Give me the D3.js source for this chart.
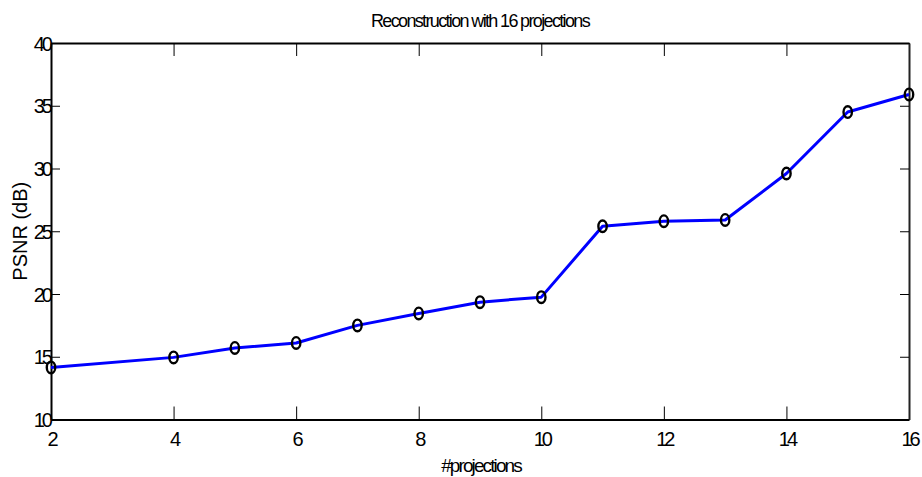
<!DOCTYPE html>
<html>
<head>
<meta charset="utf-8">
<script src="https://d3js.org/d3.v7.min.js"></script>
<style>
  html, body { margin: 0; padding: 0; background: #fff; }
  svg { display: block; }
  text { font-family: "Liberation Sans", Arial, sans-serif; fill: #000; }
</style>
</head>
<body>
<svg id="chart" width="922" height="477"></svg>
<script>
const projections = [2, 4, 5, 6, 7, 8, 9, 10, 11, 12, 13, 14, 15, 16];
const psnr = [14.15, 14.95, 15.7, 16.1, 17.5, 18.45, 19.35, 19.75, 25.4, 25.8, 25.9, 29.6, 34.5, 35.9];
const xTicks = [2, 4, 6, 8, 10, 12, 14, 16];
const yTicks = [10, 15, 20, 25, 30, 35, 40];
const titleText = "Reconstruction with 16 projections";
const xLabel = "#projections";
const yLabel = "PSNR (dB)";

const W = 922, H = 477;
const margin = { left: 51, right: 13, top: 43, bottom: 57.5 };
const svg = d3.select("#chart");
const iw = W - margin.left - margin.right;
const ih = H - margin.top - margin.bottom;

const x = d3.scaleLinear().domain([2, 16]).range([margin.left, margin.left + iw]);
const y = d3.scaleLinear().domain([10, 40]).range([margin.top + ih, margin.top]);

const gBottom = svg.append("g").attr("transform", `translate(0,${margin.top + ih})`)
  .call(d3.axisBottom(x).tickValues(xTicks).tickSize(-13).tickSizeOuter(0).tickFormat(d3.format("d")));
const gTop = svg.append("g").attr("transform", `translate(0,${margin.top})`)
  .call(d3.axisTop(x).tickValues(xTicks).tickSize(-13).tickSizeOuter(0).tickFormat(""));
const gLeft = svg.append("g").attr("transform", `translate(${margin.left},0)`)
  .call(d3.axisLeft(y).tickValues(yTicks).tickSize(-9).tickSizeOuter(0).tickFormat(d3.format("d")));
const gRight = svg.append("g").attr("transform", `translate(${margin.left + iw},0)`)
  .call(d3.axisRight(y).tickValues(yTicks).tickSize(-9).tickSizeOuter(0).tickFormat(""));

[gBottom, gTop, gLeft, gRight].forEach(g => {
  g.select(".domain").attr("stroke", "#000").attr("stroke-width", 2);
  g.selectAll(".tick line").attr("stroke", "#000").attr("stroke-width", 1);
});
gRight.select(".domain").attr("stroke", "#222");

gBottom.selectAll(".tick text")
  .attr("y", 445.5 - (margin.top + ih)).attr("dy", 0)
  .attr("font-size", 20).attr("letter-spacing", "-3px")
  .attr("font-family", "Liberation Sans, Arial, sans-serif");
gLeft.selectAll(".tick text")
  .attr("x", -1).attr("dy", "0.36em")
  .attr("font-size", 20).attr("letter-spacing", "-3px")
  .attr("font-family", "Liberation Sans, Arial, sans-serif");

const line = d3.line().x((d, i) => x(projections[i])).y(d => y(d));
svg.append("path").datum(psnr)
  .attr("d", line)
  .attr("fill", "none")
  .attr("stroke", "#0000ff")
  .attr("stroke-width", 3)
  .attr("stroke-linejoin", "round");

svg.append("g").selectAll("ellipse").data(psnr).join("ellipse")
  .attr("cx", (d, i) => x(projections[i]))
  .attr("cy", d => y(d))
  .attr("rx", 4.2)
  .attr("ry", 5.8)
  .attr("fill", "none")
  .attr("stroke", "#000")
  .attr("stroke-width", 2.4);

svg.append("text")
  .attr("x", margin.left + iw / 2).attr("y", 27)
  .attr("text-anchor", "middle")
  .attr("font-size", 18).attr("letter-spacing", "-1.65px")
  .text(titleText);

svg.append("text")
  .attr("x", margin.left + iw / 2 + 1).attr("y", 471.5)
  .attr("text-anchor", "middle")
  .attr("font-size", 19).attr("letter-spacing", "-1.9px")
  .text(xLabel);

svg.append("text")
  .attr("transform", `translate(27,${margin.top + ih / 2}) rotate(-90)`)
  .attr("text-anchor", "middle")
  .attr("font-size", 20)
  .text(yLabel);
</script>
</body>
</html>
